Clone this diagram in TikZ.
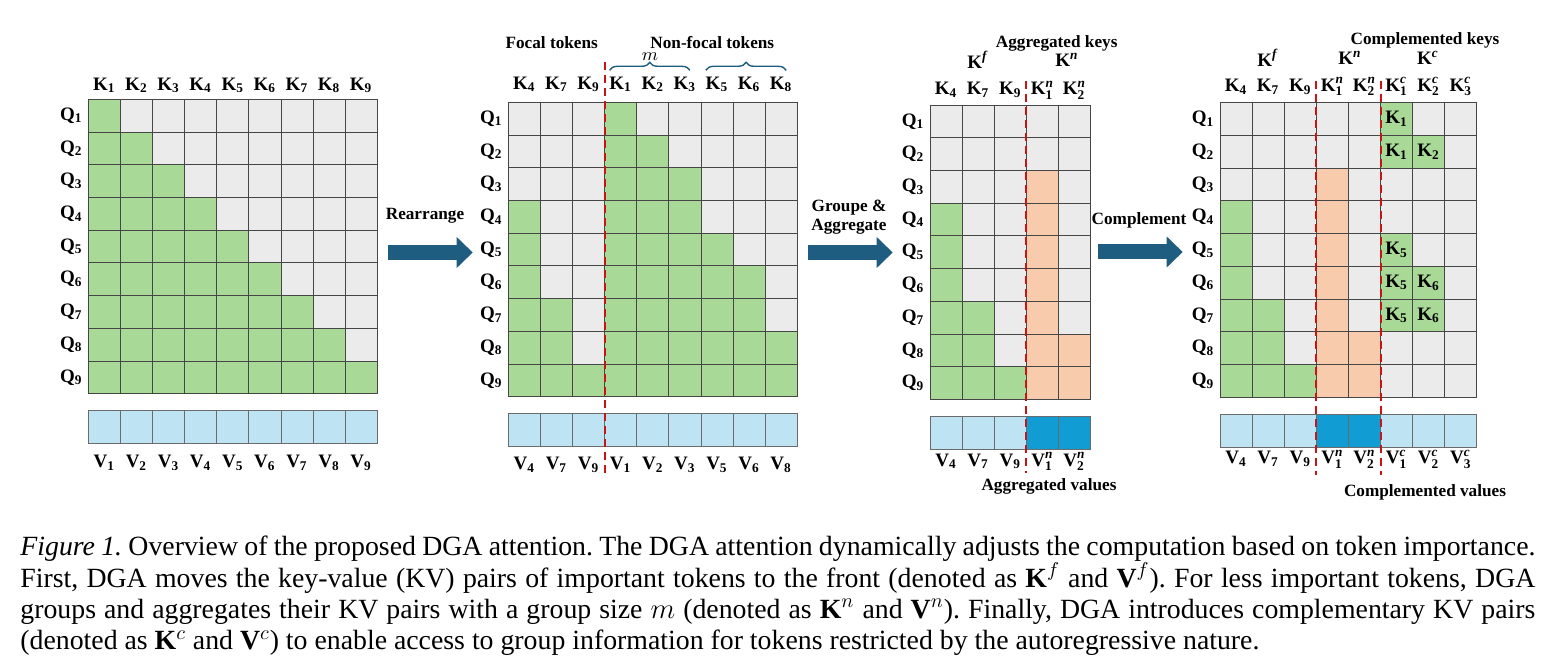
\documentclass[tikz,border=0pt]{standalone}
\usepackage{amsmath}
\usepackage{fontspec}
\setmainfont{Liberation Serif}
\usetikzlibrary{arrows.meta,decorations.pathreplacing}
\definecolor{attgreen}{RGB}{169,217,150}
\definecolor{maskgray}{RGB}{235,235,235}
\definecolor{valblue}{RGB}{190,228,243}
\definecolor{aggblue}{RGB}{18,156,212}
\definecolor{aggsalmon}{RGB}{248,203,173}
\definecolor{arrowblue}{RGB}{30,92,128}
\definecolor{splitred}{RGB}{200,20,20}
\definecolor{gridgray}{RGB}{70,70,70}
\newcommand{\tok}[2]{\textbf{#1}$_{\textbf{#2}}$}
\newcommand{\tokup}[3]{\textbf{#1}$^{\textbf{\textit{#2}}}_{\textbf{#3}}$}
\newcommand{\tsup}[2]{\textbf{#1}$^{\textbf{\textit{#2}}}$}
\def\cw{32.1}
\def\ch{32.7}
\tikzset{
  lbl/.style={font=\fontsize{9.5}{11}\selectfont, inner sep=0pt},
  head/.style={font=\bfseries\fontsize{8.6}{10}\selectfont, inner sep=0pt},
  gridline/.style={draw=gridgray, line width=0.4pt},
  valline/.style={draw=gridgray!80, line width=0.4pt},
  split/.style={draw=splitred, line width=1pt, dash pattern=on 4pt off 2.5pt},
  bigarrow/.style={draw=arrowblue, line width=7.5pt, -{Triangle[width=15pt,length=8pt]}},
  grp/.style={draw=arrowblue, line width=0.7pt, decorate, decoration={brace, amplitude=4pt}},
}
\begin{document}
\begin{tikzpicture}[x=0.5pt,y=-0.5pt]
\fill[white] (0,0) rectangle (1557,668);
\useasboundingbox (0,0) rectangle (1557,668);

% causal attention map
\begin{scope}[shift={(88.3,99.3)}]
  \fill[maskgray] (0,0) rectangle ({9*\cw},{9*\ch});
  \foreach \r in {1,...,9}
    \fill[attgreen] (0,{(\r-1)*\ch}) rectangle ({\r*\cw},{\r*\ch});
  \foreach \c in {0,...,9} \draw[gridline] ({\c*\cw},0) -- ({\c*\cw},{9*\ch});
  \foreach \r in {0,...,9} \draw[gridline] (0,{\r*\ch}) -- ({9*\cw},{\r*\ch});
  \fill[valblue] (0,{9*\ch+17}) rectangle ({9*\cw},{9*\ch+50});
  \foreach \c in {0,...,9} \draw[valline] ({\c*\cw},{9*\ch+17}) -- ({\c*\cw},{9*\ch+50});
  \draw[valline] (0,{9*\ch+17}) rectangle ({9*\cw},{9*\ch+50});
  \foreach \c in {1,...,9}{
    \node[lbl] (a-k\c) at ({(\c-0.5)*\cw},-14) {\tok{K}{\c}};
    \node[lbl] (a-v\c) at ({(\c-0.5)*\cw},{9*\ch+69}) {\tok{V}{\c}};
  }
  \foreach \r in {1,...,9}
    \node[lbl] (a-q\r) at (-17,{(\r-0.5)*\ch}) {\tok{Q}{\r}};
\end{scope}

% rearranged map
\begin{scope}[shift={(508.3,102.3)}]
  \fill[maskgray] (0,0) rectangle ({9*\cw},{9*\ch});
  \foreach \c/\k in {1/4,2/7,3/9,4/1,5/2,6/3,7/5,8/6,9/8}
    \fill[attgreen] ({(\c-1)*\cw},{(\k-1)*\ch}) rectangle ({\c*\cw},{9*\ch});
  \foreach \c in {0,...,9} \draw[gridline] ({\c*\cw},0) -- ({\c*\cw},{9*\ch});
  \foreach \r in {0,...,9} \draw[gridline] (0,{\r*\ch}) -- ({9*\cw},{\r*\ch});
  \fill[valblue] (0,{9*\ch+17}) rectangle ({9*\cw},{9*\ch+50});
  \foreach \c in {0,...,9} \draw[valline] ({\c*\cw},{9*\ch+17}) -- ({\c*\cw},{9*\ch+50});
  \draw[valline] (0,{9*\ch+17}) rectangle ({9*\cw},{9*\ch+50});
  \foreach \c/\k in {1/4,2/7,3/9,4/1,5/2,6/3,7/5,8/6,9/8}{
    \node[lbl] (b-k\c) at ({(\c-0.5)*\cw},-18) {\tok{K}{\k}};
    \node[lbl] (b-v\c) at ({(\c-0.5)*\cw},{9*\ch+68}) {\tok{V}{\k}};
  }
  \foreach \r in {1,...,9}
    \node[lbl] (b-q\r) at (-17,{(\r-0.5)*\ch}) {\tok{Q}{\r}};
  \coordinate (b-top) at ({3*\cw},-40);
  \coordinate (b-bot) at ({3*\cw},374);
  \draw[split] (b-top) -- (b-bot);
  \coordinate (g1a) at ({3*\cw+5},-32);
  \coordinate (g1b) at ({6*\cw-11},-32);
  \coordinate (g2a) at ({6*\cw+5},-32);
  \coordinate (g2b) at ({9*\cw-11},-32);
  \draw[grp] (g1a) -- (g1b);
  \draw[grp] (g2a) -- (g2b);
  \node[lbl] (b-m) at (141.7,-46) {$m$};
  \node[head] (b-focal) at (43.4,-60) {Focal tokens};
  \node[head] (b-nonfocal) at (204,-60) {Non-focal tokens};
\end{scope}

% grouped and aggregated map
\begin{scope}[shift={(930,105)}]
  \fill[maskgray] (0,0) rectangle ({5*\cw},{9*\ch});
  \foreach \c/\k in {1/4,2/7,3/9}
    \fill[attgreen] ({(\c-1)*\cw},{(\k-1)*\ch}) rectangle ({\c*\cw},{9*\ch});
  \fill[aggsalmon] ({3*\cw},{2*\ch}) rectangle ({4*\cw},{9*\ch});
  \fill[aggsalmon] ({4*\cw},{7*\ch}) rectangle ({5*\cw},{9*\ch});
  \foreach \c in {0,...,5} \draw[gridline] ({\c*\cw},0) -- ({\c*\cw},{9*\ch});
  \foreach \r in {0,...,9} \draw[gridline] (0,{\r*\ch}) -- ({5*\cw},{\r*\ch});
  \fill[valblue] (0,{9*\ch+17}) rectangle ({3*\cw},{9*\ch+50});
  \fill[aggblue] ({3*\cw},{9*\ch+17}) rectangle ({5*\cw},{9*\ch+50});
  \foreach \c in {0,...,5} \draw[valline] ({\c*\cw},{9*\ch+17}) -- ({\c*\cw},{9*\ch+50});
  \draw[valline] (0,{9*\ch+17}) rectangle ({5*\cw},{9*\ch+50});
  \foreach \c/\k in {1/4,2/7,3/9}{
    \node[lbl] (c-k\c) at ({(\c-0.5)*\cw},-15) {\tok{K}{\k}};
    \node[lbl] (c-v\c) at ({(\c-0.5)*\cw},{9*\ch+62}) {\tok{V}{\k}};
  }
  \foreach \c/\k in {4/1,5/2}{
    \node[lbl] (c-k\c) at ({(\c-0.5)*\cw},-15) {\tokup{K}{n}{\k}};
    \node[lbl] (c-v\c) at ({(\c-0.5)*\cw},{9*\ch+62}) {\tokup{V}{n}{\k}};
  }
  \foreach \r in {1,...,9}
    \node[lbl] (c-q\r) at (-17,{(\r-0.5)*\ch}) {\tok{Q}{\r}};
  \coordinate (c-top) at ({3*\cw},-24);
  \coordinate (c-bot) at ({3*\cw},368);
  \draw[split] (c-top) -- (c-bot);
  \node[lbl] (c-kf) at (48,-45) {\tsup{K}{f}};
  \node[lbl] (c-kn) at (137,-45) {\tsup{K}{n}};
  \node[head] (c-keys) at (126.7,-62) {Aggregated keys};
  \node[head] (c-vals) at (119,381) {Aggregated values};
\end{scope}

% complemented map
\begin{scope}[shift={(1220,102.7)}]
  \fill[maskgray] (0,0) rectangle ({8*\cw},{9*\ch});
  \foreach \c/\k in {1/4,2/7,3/9}
    \fill[attgreen] ({(\c-1)*\cw},{(\k-1)*\ch}) rectangle ({\c*\cw},{9*\ch});
  \fill[aggsalmon] ({3*\cw},{2*\ch}) rectangle ({4*\cw},{9*\ch});
  \fill[aggsalmon] ({4*\cw},{7*\ch}) rectangle ({5*\cw},{9*\ch});
  \foreach \c/\r/\k in {6/1/1,6/2/1,7/2/2,6/5/5,6/6/5,7/6/6,6/7/5,7/7/6}{
    \fill[attgreen] ({(\c-1)*\cw},{(\r-1)*\ch}) rectangle ({\c*\cw},{\r*\ch});
    \node[lbl] (d-c\c-\r) at ({(\c-0.5)*\cw},{(\r-0.5)*\ch}) {\tok{K}{\k}};
  }
  \foreach \c in {0,...,8} \draw[gridline] ({\c*\cw},0) -- ({\c*\cw},{9*\ch});
  \foreach \r in {0,...,9} \draw[gridline] (0,{\r*\ch}) -- ({8*\cw},{\r*\ch});
  \fill[valblue] (0,{9*\ch+17}) rectangle ({8*\cw},{9*\ch+50});
  \fill[aggblue] ({3*\cw},{9*\ch+17}) rectangle ({5*\cw},{9*\ch+50});
  \foreach \c in {0,...,8} \draw[valline] ({\c*\cw},{9*\ch+17}) -- ({\c*\cw},{9*\ch+50});
  \draw[valline] (0,{9*\ch+17}) rectangle ({8*\cw},{9*\ch+50});
  \foreach \c/\k in {1/4,2/7,3/9}{
    \node[lbl] (d-k\c) at ({(\c-0.5)*\cw},-16) {\tok{K}{\k}};
    \node[lbl] (d-v\c) at ({(\c-0.5)*\cw},{9*\ch+62}) {\tok{V}{\k}};
  }
  \foreach \c/\k in {4/1,5/2}{
    \node[lbl] (d-k\c) at ({(\c-0.5)*\cw},-16) {\tokup{K}{n}{\k}};
    \node[lbl] (d-v\c) at ({(\c-0.5)*\cw},{9*\ch+62}) {\tokup{V}{n}{\k}};
  }
  \foreach \c/\k in {6/1,7/2,8/3}{
    \node[lbl] (d-k\c) at ({(\c-0.5)*\cw},-16) {\tokup{K}{c}{\k}};
    \node[lbl] (d-v\c) at ({(\c-0.5)*\cw},{9*\ch+62}) {\tokup{V}{c}{\k}};
  }
  \foreach \r in {1,...,9}
    \node[lbl] (d-q\r) at (-17,{(\r-0.5)*\ch}) {\tok{Q}{\r}};
  \coordinate (d-top1) at ({3*\cw},-22);
  \coordinate (d-bot1) at ({3*\cw},372);
  \coordinate (d-top2) at ({5*\cw},-22);
  \coordinate (d-bot2) at ({5*\cw},372);
  \draw[split] (d-top1) -- (d-bot1);
  \draw[split] (d-top2) -- (d-bot2);
  \node[lbl] (d-kf) at (48,-45) {\tsup{K}{f}};
  \node[lbl] (d-kn) at (130,-45) {\tsup{K}{n}};
  \node[lbl] (d-kc) at (208,-45) {\tsup{K}{c}};
  \node[head] (d-keys) at (205,-62) {Complemented keys};
  \node[head] (d-vals) at (205,390) {Complemented values};
\end{scope}

% arrows between the maps
\coordinate (s1) at (388,252.5);
\coordinate (e1) at (472.7,252.5);
\coordinate (s2) at (808,252.5);
\coordinate (e2) at (892.7,252.5);
\coordinate (s3) at (1098.3,252);
\coordinate (e3) at (1182.7,252);
\draw[bigarrow] (s1) -- (e1);
\draw[bigarrow] (s2) -- (e2);
\draw[bigarrow] (s3) -- (e3);
\node[head] (rearrange) at (425,216) {Rearrange};
\node[head, align=center, font=\bfseries\fontsize{8.6}{9.4}\selectfont] (group) at (849,217) {Groupe \&\\Aggregate};
\node[head] (complement) at (1139,220) {Complement};

% caption
\node[anchor=north west, inner sep=0pt, text width=757.5pt, align=justify,
      font=\fontsize{13.9}{15.6}\selectfont\frenchspacing] (caption) at (20,536) {%
\textit{Figure 1.} Overview of the proposed DGA attention. The DGA attention dynamically adjusts the computation based on token importance.\linebreak
First, DGA moves the key-value (KV) pairs of important tokens to the front (denoted as $\mathbf{K}^f$ and $\mathbf{V}^f$). For less important tokens, DGA\linebreak
groups and aggregates their KV pairs with a group size $m$ (denoted as $\mathbf{K}^n$ and $\mathbf{V}^n$). Finally, DGA introduces complementary KV pairs\linebreak
(denoted as $\mathbf{K}^c$ and $\mathbf{V}^c$) to enable access to group information for tokens restricted by the autoregressive nature.};
\end{tikzpicture}
\end{document}
